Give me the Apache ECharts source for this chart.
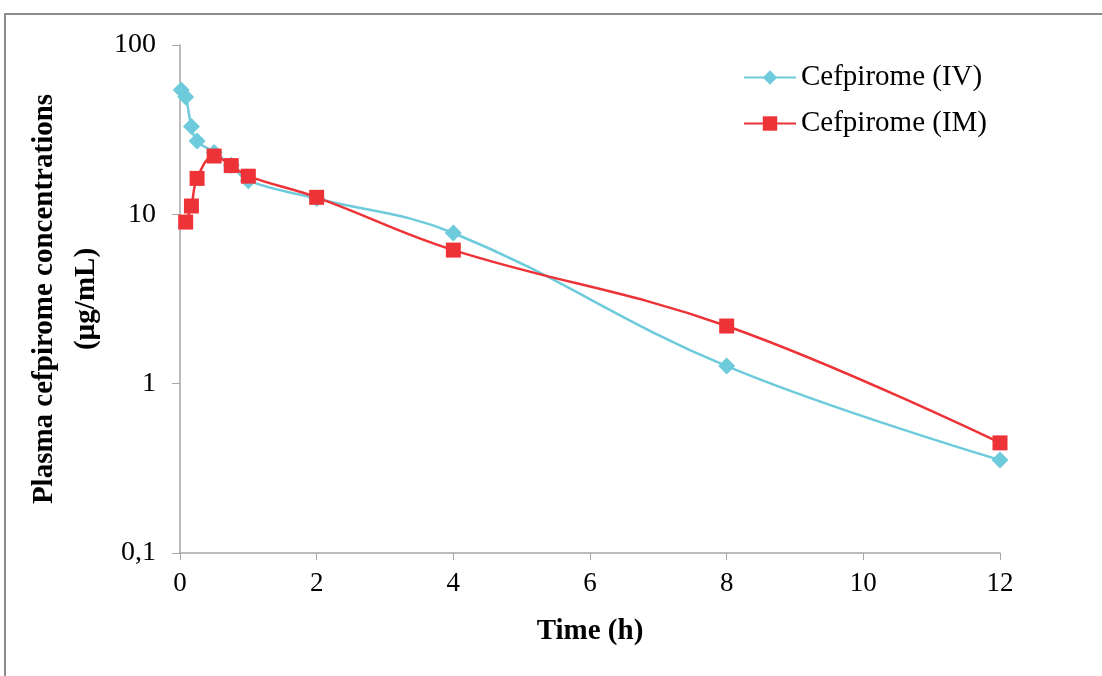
<!DOCTYPE html>
<html>
<head>
<meta charset="utf-8">
<script src="https://cdn.jsdelivr.net/npm/echarts@6/dist/echarts.min.js"></script>
<style>
html,body{margin:0;padding:0;background:#fff;}
#c{width:1102px;height:676px;}
</style>
</head>
<body>
<div id="c"></div>
<script>
const seriesNames = ['Cefpirome (IV)', 'Cefpirome (IM)'];
const ivTime = [0.017, 0.083, 0.167, 0.25, 0.5, 0.75, 1, 2, 4, 8, 12];
const ivConc = [54.2, 49.3, 33.0, 27.1, 23.2, 19.5, 15.8, 12.4, 7.76, 1.27, 0.354];
const imTime = [0.083, 0.167, 0.25, 0.5, 0.75, 1, 2, 4, 8, 12];
const imConc = [9.0, 11.2, 16.3, 22.1, 19.4, 16.8, 12.6, 6.15, 2.19, 0.447];
const xTitle = 'Time (h)';
const yTitle = 'Plasma cefpirome concentrations\n(µg/mL)';

const font = 'Liberation Serif, Times New Roman, serif';
const chart = echarts.init(document.getElementById('c'));
chart.setOption({
  animation: false,
  backgroundColor: '#fff',
  graphic: [{
    type: 'rect', shape: {x: 5, y: 14, width: 1300, height: 900},
    style: {fill: 'none', stroke: '#8c8c8c', lineWidth: 2}, silent: true, z: -1
  }],
  grid: {left: 180, right: 102, top: 45, bottom: 123},
  legend: {
    orient: 'vertical', left: 738, top: 58, itemWidth: 52, itemHeight: 18, itemGap: 17,
    textStyle: {fontFamily: font, fontSize: 29, color: '#000'},
    data: seriesNames
  },
  xAxis: {
    type: 'value', min: 0, max: 12, interval: 2,
    name: xTitle, nameLocation: 'middle', nameGap: 64, nameMoveOverlap: false,
    nameTextStyle: {fontFamily: font, fontSize: 29, fontWeight: 'bold', color: '#000'},
    axisLine: {lineStyle: {color: '#a6a6a6', width: 1.5}},
    axisTick: {show: true, length: 7, lineStyle: {color: '#a6a6a6'}},
    axisLabel: {fontFamily: font, fontSize: 27, color: '#000', margin: 17},
    splitLine: {show: false}
  },
  yAxis: {
    type: 'log', logBase: 10, min: 0.1, max: 100,
    name: yTitle, nameLocation: 'middle', nameRotate: 90, nameGap: 72, nameMoveOverlap: false,
    nameTextStyle: {fontFamily: font, fontSize: 29, fontWeight: 'bold', color: '#000', lineHeight: 42},
    axisLine: {show: true, lineStyle: {color: '#a6a6a6', width: 1.5}},
    axisTick: {show: true, length: 8, lineStyle: {color: '#a6a6a6'}},
    minorTick: {show: false},
    axisLabel: {fontFamily: font, fontSize: 28, color: '#000', margin: 24,
      formatter: v => String(Number(v.toPrecision(6))).replace('.', ',')},
    splitLine: {show: false}
  },
  series: [
    {
      name: seriesNames[0], type: 'line', smooth: 0.4,
      data: ivTime.map((t, i) => [t, ivConc[i]]),
      symbol: 'diamond', symbolSize: 17,
      itemStyle: {color: '#6dcbdb'},
      lineStyle: {color: '#6dcbdb', width: 2.5}
    },
    {
      name: seriesNames[1], type: 'line', smooth: 0.4,
      data: imTime.map((t, i) => [t, imConc[i]]),
      symbol: 'rect', symbolSize: 15,
      itemStyle: {color: '#ee3338'},
      lineStyle: {color: '#ee3338', width: 2.5}
    }
  ]
});
</script>
</body>
</html>
